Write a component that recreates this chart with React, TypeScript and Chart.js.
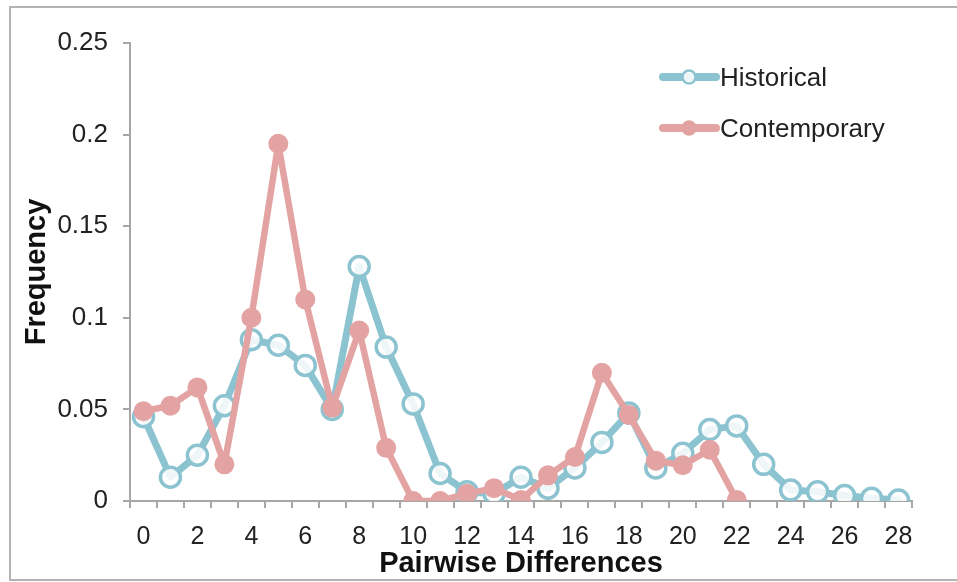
import React, { useEffect, useRef } from "react";
import { Chart, registerables } from "chart.js";

Chart.register(...registerables);

const categories = [
  "0", "1", "2", "3", "4", "5", "6", "7", "8", "9", "10", "11", "12", "13", "14",
  "15", "16", "17", "18", "19", "20", "21", "22", "23", "24", "25", "26", "27", "28",
];

const historical = [
  0.046, 0.013, 0.025, 0.052, 0.088, 0.085, 0.074, 0.05, 0.128, 0.084, 0.053, 0.015,
  0.005, 0.004, 0.013, 0.007, 0.018, 0.032, 0.048, 0.018, 0.026, 0.039, 0.041, 0.02,
  0.006, 0.005, 0.003, 0.0015, 0.0005,
];

const contemporary = [
  0.049, 0.052, 0.062, 0.02, 0.1, 0.195, 0.11, 0.051, 0.093, 0.029, 0, 0, 0.004,
  0.007, 0.0005, 0.014, 0.024, 0.07, 0.047, 0.022, 0.0195, 0.028, 0.0005,
];

const yTickLabels = ["0", "0.05", "0.1", "0.15", "0.2", "0.25"];

const BLUE = "#8cc3d0";
const PINK = "#e3a3a3";
const FONT = "'Liberation Sans', Arial, Helvetica, sans-serif";
const AXIS = "#a6a6a6";
const TEXT = "#222222";

const legendPlugin = {
  id: "floatingLegend",
  afterDraw(chart: any) {
    const ctx = chart.ctx;
    const items = chart.data.datasets.map((ds: any, i: number) => ({
      label: ds.label,
      color: ds.borderColor,
      fill: ds.pointBackgroundColor,
      y: 77 + i * 51,
    }));
    ctx.save();
    for (const it of items) {
      ctx.strokeStyle = it.color;
      ctx.lineWidth = 8;
      ctx.lineCap = "round";
      ctx.beginPath();
      ctx.moveTo(663, it.y);
      ctx.lineTo(716, it.y);
      ctx.stroke();
      ctx.beginPath();
      ctx.arc(689, it.y, 6.5, 0, Math.PI * 2);
      ctx.fillStyle = it.fill;
      ctx.fill();
      ctx.lineWidth = 2.5;
      ctx.stroke();
      ctx.fillStyle = TEXT;
      ctx.font = `26px ${FONT}`;
      ctx.textAlign = "left";
      ctx.textBaseline = "middle";
      ctx.fillText(it.label, 720, it.y + 2);
    }
    ctx.restore();
  },
};

export default function App() {
  const canvasRef = useRef<HTMLCanvasElement | null>(null);

  useEffect(() => {
    if (!canvasRef.current) return;
    const chart = new Chart(canvasRef.current, {
      type: "line",
      data: {
        labels: categories,
        datasets: [
          {
            label: "Historical",
            data: historical,
            borderColor: BLUE,
            backgroundColor: BLUE,
            borderWidth: 7,
            borderJoinStyle: "round",
            borderCapStyle: "round",
            pointRadius: 10,
            pointBorderWidth: 3.5,
            pointBackgroundColor: "rgba(255,255,255,0.85)",
            pointBorderColor: BLUE,
            tension: 0,
            order: 2,
          },
          {
            label: "Contemporary",
            data: contemporary,
            borderColor: PINK,
            backgroundColor: PINK,
            borderWidth: 6.5,
            borderJoinStyle: "round",
            borderCapStyle: "round",
            pointRadius: 10,
            pointBorderWidth: 0,
            pointBackgroundColor: PINK,
            pointBorderColor: PINK,
            tension: 0,
            order: 1,
          },
        ],
      },
      options: {
        animation: false,
        responsive: false,
        devicePixelRatio: 1,
        layout: { padding: { left: 20, top: 43, right: 45, bottom: 1 } },
        plugins: { legend: { display: false }, tooltip: { enabled: false } },
        scales: {
          x: {
            type: "category",
            offset: true,
            grid: {
              offset: true,
              drawOnChartArea: false,
              drawTicks: true,
              tickLength: 7,
              color: AXIS,
              lineWidth: 2,
            },
            border: { color: AXIS, width: 2 },
            ticks: {
              autoSkip: false,
              maxRotation: 0,
              padding: 14,
              color: TEXT,
              font: { family: FONT, size: 25 },
              callback: (_v: any, i: number) => (i % 2 === 0 ? categories[i] : ""),
            },
            title: {
              display: true,
              text: "Pairwise Differences",
              color: "#111",
              font: { family: FONT, size: 29, weight: "bold" },
              padding: { top: 0, bottom: 0 },
            },
            afterFit: (s: any) => {
              s.height = 80;
            },
          },
          y: {
            min: 0,
            max: 0.25,
            grid: {
              drawOnChartArea: false,
              drawTicks: true,
              tickLength: 7,
              color: AXIS,
              lineWidth: 2,
            },
            border: { color: AXIS, width: 2 },
            ticks: {
              stepSize: 0.05,
              padding: 15,
              color: TEXT,
              font: { family: FONT, size: 26 },
              callback: (_v: any, i: number) => yTickLabels[i],
            },
            title: {
              display: true,
              text: "Frequency",
              color: "#111",
              font: { family: FONT, size: 29, weight: "bold" },
              padding: { top: 0, bottom: 0 },
            },
            afterFit: (s: any) => {
              s.width = 110;
            },
          },
        },
      },
      plugins: [legendPlugin],
    } as any);
    return () => chart.destroy();
  }, []);

  return (
    <div style={{ position: "absolute", left: 0, top: 0, width: 957, height: 582, background: "#fff" }}>
      <canvas ref={canvasRef} width={957} height={582} style={{ position: "absolute", left: 0, top: 0, width: 957, height: 582 }} />
      <div
        style={{
          position: "absolute",
          left: 9,
          top: 6,
          width: 948,
          height: 575,
          boxSizing: "border-box",
          borderTop: "2px solid #b3b3b3",
          borderLeft: "2px solid #b3b3b3",
          borderBottom: "2px solid #b3b3b3",
          pointerEvents: "none",
        }}
      />
    </div>
  );
}
